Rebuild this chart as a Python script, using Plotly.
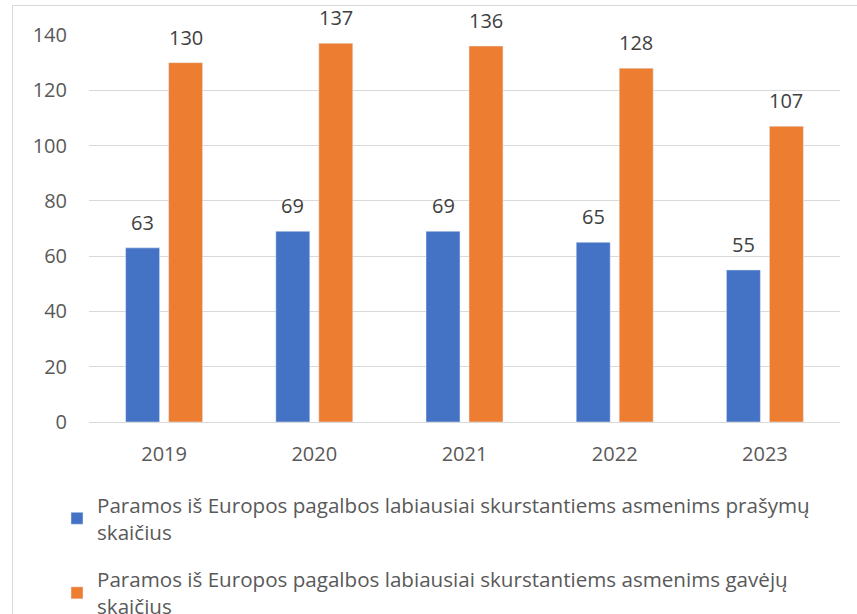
import plotly.graph_objects as go

years = ["2019", "2020", "2021", "2022", "2023"]
requests = [63, 69, 69, 65, 55]
recipients = [130, 137, 136, 128, 107]
series_names = [
    "Paramos iš Europos pagalbos labiausiai skurstantiems asmenims prašymų<br>skaičius",
    "Paramos iš Europos pagalbos labiausiai skurstantiems asmenims gavėjų<br>skaičius",
]
y_ticks = [0, 20, 40, 60, 80, 100, 120, 140]

BLUE = "#4472C4"
ORANGE = "#ED7D31"
TEXT = "#595959"
GRID = "#D9D9D9"
FONT = "Open Sans"
FS = 20

W, H = 857, 614
ML, MR, MT, MB = 89, 17, 35, 192
plot_w = W - ML - MR
plot_h = H - MT - MB
BARGAP = 0.4275

fig = go.Figure()
fig.add_trace(go.Bar(x=years, y=requests, name=series_names[0],
                     marker=dict(color=BLUE), legendgroup="a"))
fig.add_trace(go.Bar(x=years, y=recipients, name=series_names[1],
                     marker=dict(color=ORANGE), legendgroup="b"))

# value labels above each bar (x given as category index)
slot_half = plot_w / len(years) * (1 - BARGAP) / 4
annotations = []
for vals, shift in ((requests, -slot_half), (recipients, slot_half)):
    for i, v in enumerate(vals):
        annotations.append(dict(
            x=i, y=v, xref="x", yref="y", text=str(v), showarrow=False,
            xshift=shift, yshift=10, yanchor="bottom",
            font=dict(family=FONT, size=FS, color="#404040")))

# chart-area frame
def px_x(p):
    return (p - ML) / plot_w

def px_y(p):
    return (H - MB - p) / plot_h

shapes = [dict(type="rect", xref="paper", yref="paper",
               x0=px_x(12.5), x1=px_x(880), y0=px_y(660), y1=px_y(5.5),
               line=dict(color=GRID, width=1), fillcolor="rgba(0,0,0,0)",
               layer="below")]

fig.update_layout(
    width=W, height=H,
    margin=dict(l=ML, r=MR, t=MT, b=MB, autoexpand=False),
    paper_bgcolor="white", plot_bgcolor="white",
    barmode="group", bargap=BARGAP, bargroupgap=0.21,
    font=dict(family=FONT, size=FS, color=TEXT),
    showlegend=True,
    legend=dict(orientation="v", x=px_x(57), xanchor="left",
                y=px_y(485), yanchor="top", tracegroupgap=18,
                font=dict(family=FONT, size=20.6, color=TEXT),
                bgcolor="rgba(0,0,0,0)", traceorder="grouped"),
    annotations=annotations,
    shapes=shapes,
    xaxis=dict(type="category", range=[-0.5, len(years) - 0.5],
               showgrid=False, showline=True,
               linecolor=GRID, linewidth=1, ticks="", ticklabelstandoff=14,
               tickfont=dict(family=FONT, size=FS, color=TEXT)),
    yaxis=dict(range=[0, 140], tickvals=y_ticks, showgrid=True,
               gridcolor=GRID, gridwidth=1, zeroline=False, showline=False,
               ticks="", ticklabelstandoff=21,
               tickfont=dict(family=FONT, size=FS, color=TEXT)),
)

fig.write_html("out.html")
